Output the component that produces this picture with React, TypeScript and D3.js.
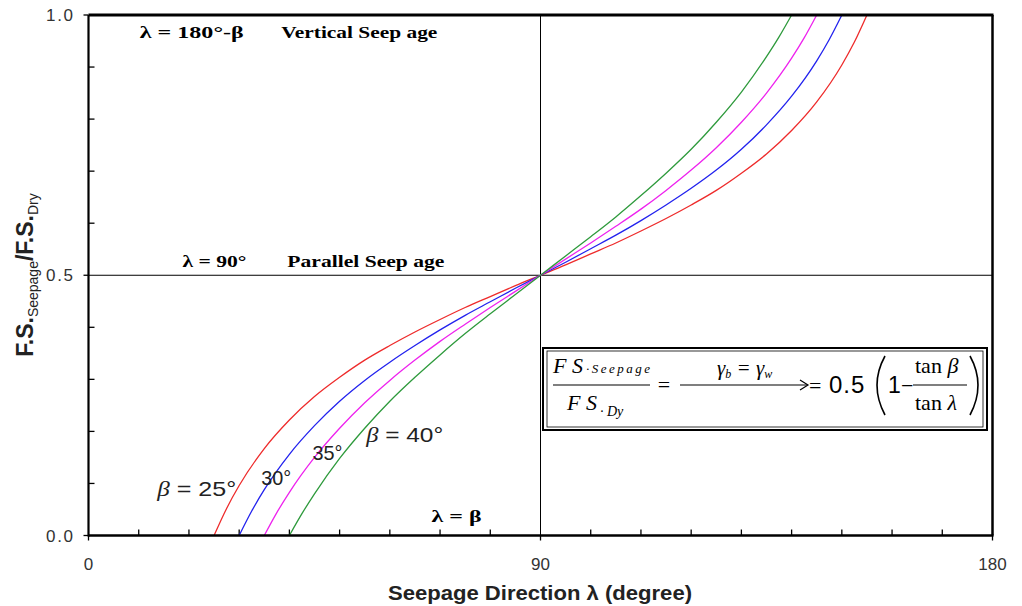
import React, { useEffect, useRef } from 'react';
import * as d3 from 'd3';

// seepage direction (deg) and F.S.seepage / F.S.dry
const lambda25 = [25, 27.5, 30, 35, 40, 45, 50, 55, 60, 65, 70, 75, 80, 85, 90, 95, 100, 105, 110, 115, 120, 125, 130, 135, 140, 145, 150, 152.5, 155];
const ratio25 = [0, 0.052, 0.096, 0.167, 0.222, 0.267, 0.304, 0.337, 0.365, 0.391, 0.415, 0.438, 0.459, 0.48, 0.5, 0.52, 0.541, 0.562, 0.585, 0.609, 0.635, 0.663, 0.696, 0.733, 0.778, 0.833, 0.904, 0.948, 1.0];

const lambda30 = [30, 32.5, 35, 40, 45, 50, 55, 60, 65, 70, 75, 80, 85, 90, 95, 100, 105, 110, 115, 120, 125, 130, 135, 140, 145, 147.5, 150];
const ratio30 = [0, 0.047, 0.088, 0.156, 0.211, 0.258, 0.298, 0.333, 0.365, 0.395, 0.423, 0.449, 0.475, 0.5, 0.525, 0.551, 0.577, 0.605, 0.635, 0.667, 0.702, 0.742, 0.789, 0.844, 0.912, 0.953, 1.0];

const lambda35 = [35, 37.5, 40, 45, 50, 55, 60, 65, 70, 75, 80, 85, 90, 95, 100, 105, 110, 115, 120, 125, 130, 135, 140, 142.5, 145];
const ratio35 = [0, 0.044, 0.083, 0.15, 0.206, 0.255, 0.298, 0.337, 0.373, 0.406, 0.438, 0.469, 0.5, 0.531, 0.562, 0.594, 0.627, 0.663, 0.702, 0.745, 0.794, 0.85, 0.917, 0.956, 1.0];

const lambda40 = [40, 42.5, 45, 50, 55, 60, 65, 70, 75, 80, 85, 90, 95, 100, 105, 110, 115, 120, 125, 130, 135, 137.5, 140];
const ratio40 = [0, 0.042, 0.08, 0.148, 0.206, 0.258, 0.304, 0.347, 0.388, 0.426, 0.463, 0.5, 0.537, 0.574, 0.612, 0.653, 0.696, 0.742, 0.794, 0.852, 0.92, 0.958, 1.0];

const xTickLabels = [0, 90, 180];
const yTickLabels = [0, 0.5, 1.0];

const curveLabels = ['β = 25°', '30°', '35°', 'β = 40°'];

export default function App() {
  const svgRef = useRef(null);

  useEffect(() => {
    const svg = d3.select(svgRef.current);
    svg.selectAll('*').remove();

    const left = 88.5, right = 992.5, top = 15, bottom = 535.5;

    const x = d3.scaleLinear().domain([0, 180]).range([left, right]);
    const y = d3.scaleLinear().domain([0, 1]).range([bottom, top]);

    svg.append('rect').attr('width', 1022).attr('height', 606).attr('fill', '#fff');

    // minor ticks point inward
    d3.range(10, 180, 10).filter(d => d !== 90).forEach(d => {
      svg.append('line')
        .attr('x1', x(d)).attr('x2', x(d))
        .attr('y1', bottom).attr('y2', bottom - 6)
        .attr('stroke', '#000').attr('stroke-width', 1.3);
    });
    d3.range(1, 10).map(d => d / 10).filter(d => d !== 0.5).forEach(d => {
      svg.append('line')
        .attr('x1', left).attr('x2', left + 6)
        .attr('y1', y(d)).attr('y2', y(d))
        .attr('stroke', '#000').attr('stroke-width', 1.3);
    });

    // major ticks point outward
    xTickLabels.forEach(d => {
      svg.append('line')
        .attr('x1', x(d)).attr('x2', x(d))
        .attr('y1', bottom).attr('y2', bottom + 5)
        .attr('stroke', '#000').attr('stroke-width', 1.3);
      svg.append('text')
        .attr('x', x(d)).attr('y', 570)
        .attr('text-anchor', 'middle')
        .attr('font-family', 'Liberation Sans, Arial, sans-serif')
        .attr('font-size', 17).attr('fill', '#333')
        .text(d);
    });
    yTickLabels.forEach(d => {
      svg.append('line')
        .attr('x1', left - 5).attr('x2', left)
        .attr('y1', y(d)).attr('y2', y(d))
        .attr('stroke', '#000').attr('stroke-width', 1.3);
      svg.append('text')
        .attr('x', 73).attr('y', y(d) + 6)
        .attr('text-anchor', 'end')
        .attr('font-family', 'Liberation Sans, Arial, sans-serif')
        .attr('font-size', 17).attr('fill', '#333')
        .attr('textLength', 27)
        .text(d3.format('.1f')(d));
    });

    // reference lines at 90 deg and 0.5
    svg.append('line')
      .attr('x1', x(90)).attr('x2', x(90)).attr('y1', top).attr('y2', bottom)
      .attr('stroke', '#000').attr('stroke-width', 1);
    svg.append('line')
      .attr('x1', left).attr('x2', right).attr('y1', y(0.5)).attr('y2', y(0.5))
      .attr('stroke', '#000').attr('stroke-width', 1);

    // curves
    const series = [
      { lam: lambda25, val: ratio25, color: '#ee2b2b' },
      { lam: lambda30, val: ratio30, color: '#2222ee' },
      { lam: lambda35, val: ratio35, color: '#ee22ee' },
      { lam: lambda40, val: ratio40, color: '#2e9a3c' },
    ];
    const line = d3.line<[number, number]>()
      .x(d => x(d[0]))
      .y(d => y(d[1]))
      .curve(d3.curveMonotoneX);
    series.forEach(s => {
      svg.append('path')
        .datum(s.lam.map((l, i) => [l, s.val[i]] as [number, number]))
        .attr('fill', 'none')
        .attr('stroke', s.color)
        .attr('stroke-width', 1.3)
        .attr('d', line);
    });

    // frame
    svg.append('line').attr('x1', left).attr('x2', right + 1).attr('y1', top).attr('y2', top)
      .attr('stroke', '#000').attr('stroke-width', 3);
    svg.append('line').attr('x1', right).attr('x2', right).attr('y1', top).attr('y2', bottom)
      .attr('stroke', '#000').attr('stroke-width', 2.5);
    svg.append('line').attr('x1', left).attr('x2', left).attr('y1', top).attr('y2', bottom + 1)
      .attr('stroke', '#000').attr('stroke-width', 2.2);
    svg.append('line').attr('x1', left).attr('x2', right + 1).attr('y1', bottom).attr('y2', bottom)
      .attr('stroke', '#000').attr('stroke-width', 2.5);

    // bold serif annotations
    const serifBold = (lam, r, txt, len) => {
      svg.append('text')
        .attr('x', x(lam)).attr('y', y(r))
        .attr('font-family', 'Liberation Serif, Times New Roman, serif')
        .attr('font-weight', 'bold')
        .attr('font-size', 17)
        .attr('textLength', len)
        .attr('lengthAdjust', 'spacingAndGlyphs')
        .text(txt);
    };
    serifBold(10.2, 0.955, 'λ = 180°-β', 104);
    serifBold(38.4, 0.955, 'Vertical Seep age', 156);
    serifBold(18.7, 0.516, 'λ = 90°', 64);
    serifBold(39.6, 0.516, 'Parallel Seep age', 157);
    serifBold(68.3, 0.025, 'λ = β', 50);

    // curve labels
    const labelPos = [
      { lam: 13.7, r: 0.075, len: 79 },
      { lam: 34.4, r: 0.097, len: 30 },
      { lam: 44.6, r: 0.146, len: 30 },
      { lam: 55.3, r: 0.179, len: 77 },
    ];
    curveLabels.forEach((t, i) => {
      const p = labelPos[i];
      const txt = svg.append('text')
        .attr('x', x(p.lam)).attr('y', y(p.r))
        .attr('font-family', 'Liberation Sans, Arial, sans-serif')
        .attr('font-size', 21)
        .attr('fill', '#222')
        .attr('textLength', p.len)
        .attr('lengthAdjust', 'spacingAndGlyphs');
      if (t.startsWith('β')) {
        txt.append('tspan').attr('font-family', 'Liberation Serif, serif').attr('font-style', 'italic').text('β');
        txt.append('tspan').text(t.slice(1));
      } else {
        txt.text(t);
      }
    });

    // axis titles
    svg.append('text')
      .attr('x', 540).attr('y', 600)
      .attr('text-anchor', 'middle')
      .attr('font-family', 'Liberation Sans, Arial, sans-serif')
      .attr('font-weight', 'bold')
      .attr('font-size', 21)
      .attr('fill', '#222')
      .attr('textLength', 304)
      .attr('lengthAdjust', 'spacingAndGlyphs')
      .text('Seepage Direction λ (degree)');

    const yt = svg.append('text')
      .attr('transform', 'translate(33,275) rotate(-90)')
      .attr('text-anchor', 'middle')
      .attr('font-family', 'Liberation Sans, Arial, sans-serif')
      .attr('font-weight', 'bold')
      .attr('font-size', 23)
      .attr('fill', '#222');
    yt.append('tspan').text('F.S.');
    yt.append('tspan').attr('font-size', 14).attr('font-weight', 'normal').attr('dy', 5).text('Seepage');
    yt.append('tspan').attr('dy', -5).text('/F.S.');
    yt.append('tspan').attr('font-size', 14).attr('font-weight', 'normal').attr('dy', 5).text('Dry');

    // formula box
    const g = svg.append('g').attr('transform', 'translate(543,348)');
    g.append('rect').attr('x', 0).attr('y', 0).attr('width', 444).attr('height', 82)
      .attr('fill', '#fff').attr('stroke', '#000').attr('stroke-width', 2);
    g.append('rect').attr('x', 4).attr('y', 3).attr('width', 436).attr('height', 76)
      .attr('fill', 'none').attr('stroke', '#000').attr('stroke-width', 0.8);

    const serif = 'Liberation Serif, Times New Roman, serif';
    const sans = 'Liberation Sans, Arial, sans-serif';
    const num = g.append('text').attr('x', 10).attr('y', 25)
      .attr('font-family', serif).attr('font-style', 'italic').attr('font-size', 22);
    num.append('tspan').text('F S');
    num.append('tspan').attr('font-size', 13).attr('dx', 3).attr('textLength', 64).text('·Seepage');
    g.append('line').attr('x1', 10).attr('x2', 107).attr('y1', 37).attr('y2', 37)
      .attr('stroke', '#000').attr('stroke-width', 1.2);
    const den = g.append('text').attr('x', 24).attr('y', 62)
      .attr('font-family', serif).attr('font-style', 'italic').attr('font-size', 22);
    den.append('tspan').text('F S');
    den.append('tspan').attr('font-size', 14).attr('dx', 3).attr('dy', 6).text('· Dy');

    g.append('text').attr('x', 121).attr('y', 44).attr('text-anchor', 'middle')
      .attr('font-family', serif).attr('font-size', 22).text('=');

    g.append('line').attr('x1', 137).attr('x2', 264).attr('y1', 37).attr('y2', 37)
      .attr('stroke', '#000').attr('stroke-width', 1.2);
    g.append('path').attr('d', 'M257,32 L265,37 L257,42').attr('fill', 'none')
      .attr('stroke', '#000').attr('stroke-width', 1.2);
    const gam = g.append('text').attr('x', 174).attr('y', 27)
      .attr('font-family', serif).attr('font-style', 'italic').attr('font-size', 21);
    gam.append('tspan').text('γ');
    gam.append('tspan').attr('font-size', 12).attr('dy', 3).text('b');
    gam.append('tspan').attr('dy', -3).text(' = γ');
    gam.append('tspan').attr('font-size', 12).attr('dy', 3).text('w');

    g.append('text').attr('x', 266).attr('y', 45)
      .attr('font-family', serif).attr('font-size', 22).text('=');
    g.append('text').attr('x', 286).attr('y', 45)
      .attr('font-family', sans).attr('font-size', 24).attr('letter-spacing', 1).text('0.5');
    g.append('path').attr('d', 'M342,8 Q326,37 342,67').attr('fill', 'none')
      .attr('stroke', '#000').attr('stroke-width', 1.6);
    g.append('text').attr('x', 345).attr('y', 45)
      .attr('font-family', sans).attr('font-size', 23).text('1');
    g.append('text').attr('x', 358).attr('y', 45)
      .attr('font-family', serif).attr('font-size', 22).text('−');
    const tb = g.append('text').attr('x', 372).attr('y', 25)
      .attr('font-family', serif).attr('font-size', 22);
    tb.append('tspan').text('tan ');
    tb.append('tspan').attr('font-style', 'italic').text('β');
    g.append('line').attr('x1', 370).attr('x2', 424).attr('y1', 37).attr('y2', 37)
      .attr('stroke', '#000').attr('stroke-width', 1.2);
    const tl = g.append('text').attr('x', 372).attr('y', 62)
      .attr('font-family', serif).attr('font-size', 22);
    tl.append('tspan').text('tan ');
    tl.append('tspan').attr('font-style', 'italic').text('λ');
    g.append('path').attr('d', 'M427,8 Q443,37 427,67').attr('fill', 'none')
      .attr('stroke', '#000').attr('stroke-width', 1.6);
  }, []);

  return (
    <svg
      ref={svgRef}
      width="1022"
      height="606"
      style={{ position: 'absolute', left: 0, top: 0, display: 'block' }}
    />
  );
}
